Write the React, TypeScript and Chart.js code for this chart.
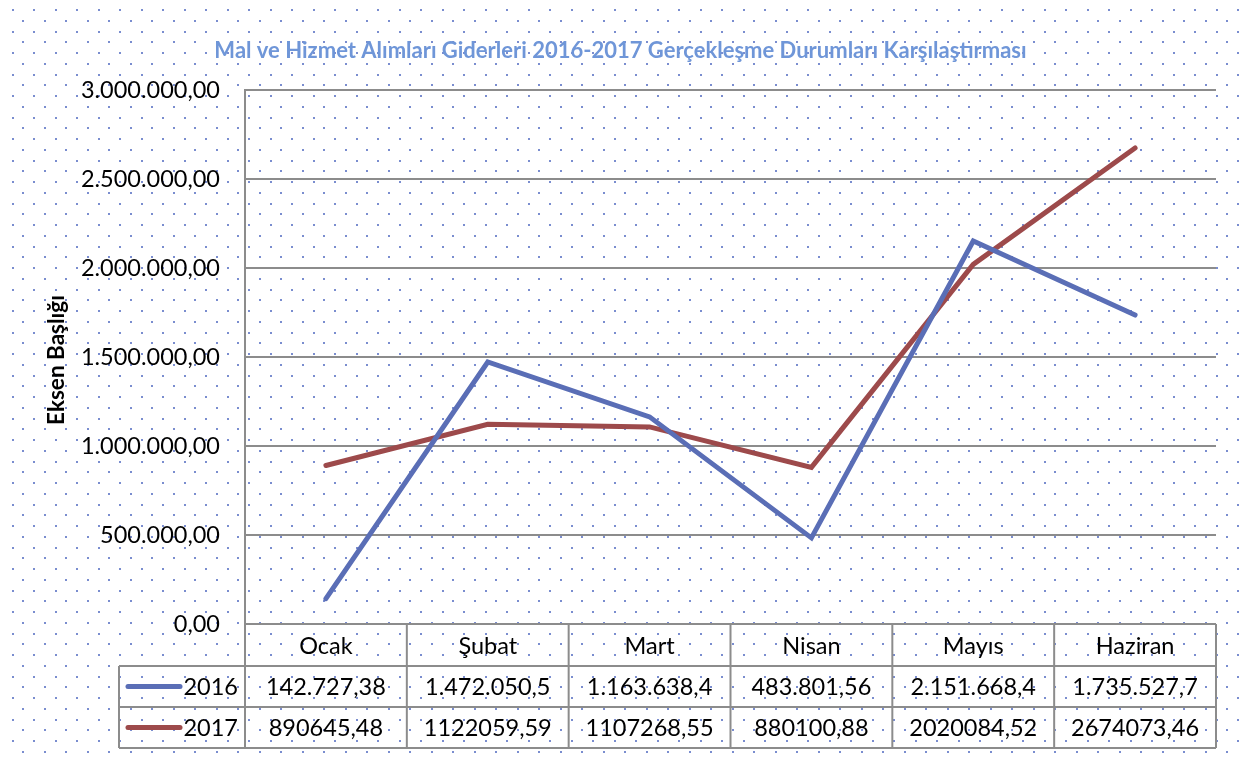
import React, { useEffect, useRef } from "react";
import { Chart, registerables } from "chart.js";

Chart.register(...registerables);

const categories = ["Ocak", "Şubat", "Mart", "Nisan", "Mayıs", "Haziran"];
const seriesNames = ["2016", "2017"];
const values2016 = [142727.38, 1472050.5, 1163638.4, 483801.56, 2151668.4, 1735527.7];
const values2017 = [890645.48, 1122059.59, 1107268.55, 880100.88, 2020084.52, 2674073.46];
const tableText2016 = ["142.727,38", "1.472.050,5", "1.163.638,4", "483.801,56", "2.151.668,4", "1.735.527,7"];
const tableText2017 = ["890645,48", "1122059,59", "1107268,55", "880100,88", "2020084,52", "2674073,46"];
const yMin = 0;
const yMax = 3000000;
const yStep = 500000;
const chartTitle = "Mal ve Hizmet Alımları Giderleri 2016-2017 Gerçekleşme Durumları Karşılaştırması";
const yAxisTitle = "Eksen Başlığı";

const COLORS = ["#5A6EB6", "#9D4A4B"];
const GRID = "#8C8C8C";
const FONT = "Lato, 'Open Sans', sans-serif";
const FS = 23.5;

function formatTR(v: number): string {
  const fixed = Math.abs(v).toFixed(2);
  const [intPart, dec] = fixed.split(".");
  const withDots = intPart.replace(/\B(?=(\d{3})+(?!\d))/g, ".");
  return (v < 0 ? "-" : "") + withDots + "," + dec;
}

const backgroundPlugin = {
  id: "dotBackground",
  beforeDraw(chart: any) {
    const { ctx, width, height } = chart;
    ctx.save();
    ctx.fillStyle = "#FFFFFF";
    ctx.fillRect(0, 0, width, height);
    ctx.fillStyle = "#7A8DCF";
    const sx = 21.5;
    const sy = 10.75;
    for (let r = 0; 10 + r * sy < height + 5; r++) {
      const y = 10 + r * sy;
      const x0 = r % 2 === 1 ? 23.3 : 12.55;
      for (let x = x0; x < width + 5; x += sx) {
        ctx.fillRect(Math.round(x) - 1, Math.round(y) - 1, 2, 2);
      }
    }
    ctx.restore();
  },
};

const overlayPlugin = {
  id: "overlay",
  afterDraw(chart: any) {
    const { ctx, chartArea } = chart;
    const xs = chart.scales.x;
    ctx.save();

    // Title
    ctx.fillStyle = "#6F96D8";
    ctx.font = `bold 22px ${FONT}`;
    ctx.textAlign = "center";
    ctx.textBaseline = "middle";
    ctx.fillText(chartTitle, chart.width / 2, 51);

    // Y axis title
    ctx.save();
    ctx.translate(57, 360);
    ctx.rotate(-Math.PI / 2);
    ctx.fillStyle = "#000000";
    ctx.font = `bold 22.5px ${FONT}`;
    ctx.fillText(yAxisTitle, 0, 0);
    ctx.restore();

    // Data table
    const top = chartArea.bottom;
    const r1 = 666;
    const r2 = 707;
    const r3 = 748;
    const legendLeft = 119;
    const half = (xs.getPixelForValue(1) - xs.getPixelForValue(0)) / 2;
    const left = xs.getPixelForValue(0) - half;
    const right = xs.getPixelForValue(categories.length - 1) + half;

    ctx.strokeStyle = GRID;
    ctx.lineWidth = 2;
    ctx.beginPath();
    ctx.moveTo(left, top);
    ctx.lineTo(right, top);
    [r1, r2, r3].forEach((y) => {
      ctx.moveTo(legendLeft, y);
      ctx.lineTo(right, y);
    });
    ctx.moveTo(legendLeft, r1);
    ctx.lineTo(legendLeft, r3);
    for (let i = 0; i <= categories.length; i++) {
      const x = left + i * 2 * half;
      ctx.moveTo(x, top);
      ctx.lineTo(x, r3);
    }
    ctx.stroke();

    ctx.fillStyle = "#000000";
    ctx.font = `${FS}px ${FONT}`;
    ctx.textAlign = "center";
    ctx.textBaseline = "middle";
    categories.forEach((c, i) => {
      const cx = xs.getPixelForValue(i);
      ctx.fillText(c, cx, (top + r1) / 2 + 1);
      ctx.fillText(tableText2016[i], cx, (r1 + r2) / 2 + 1);
      ctx.fillText(tableText2017[i], cx, (r2 + r3) / 2 + 1);
    });

    // Legend keys
    const rowsY = [(r1 + r2) / 2, (r2 + r3) / 2];
    seriesNames.forEach((name, k) => {
      ctx.strokeStyle = COLORS[k];
      ctx.lineWidth = 5;
      ctx.lineCap = "round";
      ctx.beginPath();
      ctx.moveTo(128, rowsY[k]);
      ctx.lineTo(180, rowsY[k]);
      ctx.stroke();
      ctx.fillStyle = "#000000";
      ctx.textAlign = "right";
      ctx.fillText(name, 238, rowsY[k] + 1);
    });

    ctx.restore();
  },
};

export default function App() {
  const canvasRef = useRef<HTMLCanvasElement | null>(null);

  useEffect(() => {
    if (!canvasRef.current) return;
    const chart = new Chart(canvasRef.current, {
      type: "line",
      data: {
        labels: categories,
        datasets: [
          {
            label: seriesNames[0],
            data: values2016,
            borderColor: COLORS[0],
            backgroundColor: COLORS[0],
            borderWidth: 5,
            pointRadius: 0,
            tension: 0,
            borderCapStyle: "round",
            borderJoinStyle: "miter",
          },
          {
            label: seriesNames[1],
            data: values2017,
            borderColor: COLORS[1],
            backgroundColor: COLORS[1],
            borderWidth: 5,
            pointRadius: 0,
            tension: 0,
            borderCapStyle: "round",
            borderJoinStyle: "miter",
          },
        ],
      },
      options: {
        responsive: false,
        animation: false,
        layout: { padding: { left: 0, right: 25, top: 90, bottom: 0 } },
        plugins: {
          legend: { display: false },
          title: { display: false },
          tooltip: { enabled: false },
        },
        scales: {
          x: {
            type: "category",
            offset: true,
            grid: { display: false, drawTicks: false },
            border: { display: false },
            ticks: { display: false },
            afterFit(scale: any) {
              scale.height = 136;
            },
          },
          y: {
            min: yMin,
            max: yMax,
            grid: { color: GRID, lineWidth: 2, drawTicks: false },
            border: { display: true, color: GRID, width: 2 },
            ticks: {
              stepSize: yStep,
              padding: 25,
              color: "#000000",
              font: { family: FONT, size: FS },
              callback: (v: any) => formatTR(Number(v)),
            },
            afterFit(scale: any) {
              scale.width = 245;
            },
          },
        },
      },
      plugins: [backgroundPlugin, overlayPlugin],
    } as any);

    const fontsReady = (document as any).fonts;
    if (fontsReady && fontsReady.load) {
      Promise.all([
        fontsReady.load(`${FS}px Lato`),
        fontsReady.load(`bold 20px Lato`),
      ])
        .then(() => chart.update())
        .catch(() => {});
    }

    return () => chart.destroy();
  }, []);

  return (
    <div style={{ position: "fixed", left: 0, top: 0, width: 1241, height: 760 }}>
      <canvas ref={canvasRef} width={1241} height={760} />
    </div>
  );
}
